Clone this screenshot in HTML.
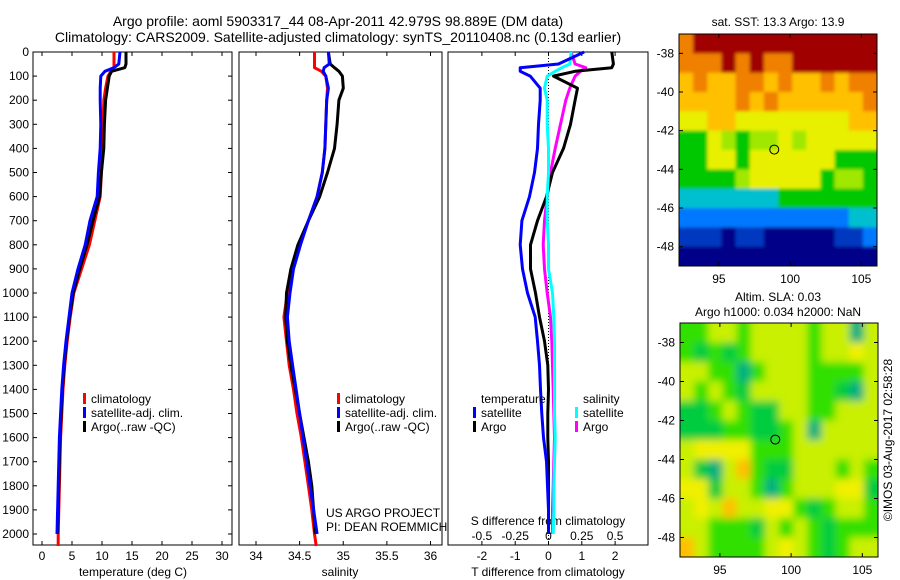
<!DOCTYPE html>
<html><head><meta charset="utf-8">
<style>
html,body{margin:0;padding:0;background:#fff;}
svg{display:block;font-family:"Liberation Sans",sans-serif;}
</style></head>
<body>
<svg id="fig" width="900" height="580" viewBox="0 0 900 580">
<defs>
<filter id="blurS" x="-5%" y="-5%" width="110%" height="110%"><feGaussianBlur stdDeviation="1.5"/></filter>
<filter id="blurL" x="-5%" y="-5%" width="110%" height="110%"><feGaussianBlur stdDeviation="4"/></filter>
<clipPath id="clipS"><rect x="679" y="34" width="198" height="232"/></clipPath>
<clipPath id="clipL"><rect x="680" y="323" width="198" height="234"/></clipPath>
</defs>
<rect width="900" height="580" fill="#fff"/>
<text x="338" y="26" font-size="14" text-anchor="middle">Argo profile: aoml 5903317_44 08-Apr-2011 42.979S 98.889E (DM data)</text>
<text x="338" y="42" font-size="14" text-anchor="middle">Climatology: CARS2009. Satellite-adjusted climatology: synTS_20110408.nc (0.13d earlier)</text>
<text x="778" y="26" font-size="12" text-anchor="middle">sat. SST: 13.3 Argo: 13.9</text>
<text x="778" y="301" font-size="12" text-anchor="middle">Altim. SLA: 0.03</text>
<text x="778" y="316" font-size="12" text-anchor="middle">Argo h1000: 0.034 h2000: NaN</text>
<text x="0" y="0" font-size="12" text-anchor="middle" transform="translate(892,440) rotate(-90)">©IMOS 03-Aug-2017 02:58:28</text>
<g id="layer"></g>
</svg>
<script>
// ---- data ----
const depths = [0,50,65,80,100,150,200,300,400,500,600,700,800,900,1000,1100,1200,1300,1400,1500,1600,1700,1800,1900,2000,2050];
const tempClim = [12,12,12,11.5,11,10.6,10.3,10.2,10.1,9.9,9.7,8.8,7.9,6.6,5.3,4.7,4.2,3.8,3.5,3.3,3.1,3.0,2.9,2.8,2.7,2.7];
const tempSat  = [13,12.8,12,10.5,9.8,9.7,9.7,9.8,9.7,9.4,9.2,8.0,7.2,6.0,5.0,4.5,4.0,3.6,3.3,3.1,2.9,2.8,2.7,2.6,2.5,null];
const tempArgo = [14,14,13.8,11.6,11.2,10.9,10.6,10.4,10.3,9.9,9.6,8.5,7.5,6.3,5.2,4.6,4.1,3.7,3.4,3.2,3.0,2.9,2.8,2.7,2.6,null];
const salClim = [34.67,34.67,34.67,34.75,34.8,34.82,34.81,34.8,34.79,34.76,34.7,34.6,34.5,34.41,34.36,34.32,34.35,34.38,34.43,34.47,34.52,34.56,34.6,34.64,34.67,34.69];
const salSat  = [34.83,34.84,34.78,34.77,34.8,34.83,34.81,34.8,34.79,34.76,34.7,34.6,34.51,34.43,34.39,34.36,34.38,34.42,34.46,34.5,34.54,34.58,34.62,34.66,34.7,null];
const salArgo = [34.83,34.85,34.9,34.95,34.99,35.0,34.95,34.93,34.9,34.82,34.73,34.6,34.48,34.4,34.35,34.34,34.36,34.4,34.45,34.5,34.55,34.6,34.64,34.66,34.68,null];
const dTSat  = [1.07,0.3,-0.85,-0.85,-0.55,-0.25,-0.25,-0.3,-0.33,-0.42,-0.57,-0.8,-0.85,-0.78,-0.63,-0.4,-0.33,-0.27,-0.24,-0.2,-0.15,-0.06,-0.03,0,0,null];
const dTArgo = [1.9,1.95,1.9,0.8,0.15,0.87,0.8,0.66,0.45,0.12,-0.06,-0.33,-0.54,-0.54,-0.39,-0.27,-0.12,-0.02,0,-0.02,-0.02,0,0,0,0,null];
const dSSat  = [0.17,0.16,0.1,0.05,-0.01,-0.03,-0.01,-0.01,0,0,-0.01,-0.01,0,0,0.03,0.04,0.045,0.045,0.045,0.045,0.05,0.045,0.04,0.04,0.035,null];
const dSArgo = [0.17,0.2,0.28,0.24,0.2,0.16,0.13,0.09,0.05,0.015,-0.01,-0.03,-0.04,-0.03,-0.01,0.015,0.025,0.03,0.035,0.04,0.045,0.04,0.035,0.03,0.03,null];
const depthTicks = [0,100,200,300,400,500,600,700,800,900,1000,1100,1200,1300,1400,1500,1600,1700,1800,1900,2000];
const tempTicks = [0,5,10,15,20,25,30];
const salTicks = [34,34.5,35,35.5,36];
const dTTicks = [-2,-1,0,1,2];
const dSTicks = [-0.5,-0.25,0,0.25,0.5];
const dSTickLabels = ["-0.5","-0.25","0","0.25","0.5"];
const sstRows = ["89999999999999","88898988999999","78778878778788","77778787777778","66776666666677","44654556566666","44664666666444","44445666664554","33333334444444","22222222222233","11101100000112","00000000000000"];
const slaRows = ["22332333323303","21212333323343","33220233322223","32321333322103","11232113322333","11122112303333","34444222333333","31035211333232","44133202333441","34353344212332","33222132321222","53222234321233"];
// ---- helpers ----
const NS="http://www.w3.org/2000/svg";
const layer=document.getElementById('layer');
function mk(tag,attrs,parent){const e=document.createElementNS(NS,tag);for(const k in attrs)e.setAttribute(k,attrs[k]);(parent||layer).appendChild(e);return e;}
const Y0=52,Y1=545;
const yD=d=>52+d*0.241;
const xT=v=>42+6*v;
const xS=v=>256+87.25*(v-34);
const xdT=v=>548.5+33.3*v;
const xdS=v=>548.5+133.2*v;
const panels=[[33,232],[239,442],[448,648]];
panels.forEach((p,i)=>{
  const r=mk('rect',{x:p[0],y:Y0,width:p[1]-p[0],height:Y1-Y0,fill:'none',stroke:'#000','stroke-width':1});
  
  
});
depthTicks.forEach(d=>{
  const y=yD(d);
  const t=mk('text',{x:29,y:y+4,'font-size':12,'text-anchor':'end'});t.textContent=d;
  
  
  mk('line',{x1:33,x2:37,y1:y,y2:y,stroke:'#000'});
  mk('line',{x1:228,x2:232,y1:y,y2:y,stroke:'#000'});
});
function xticks(ticks,fx,labels,yl){
  ticks.forEach((v,i)=>{
    const x=fx(v);
    mk('line',{x1:x,x2:x,y1:Y0,y2:Y0+4,stroke:'#000'});
    mk('line',{x1:x,x2:x,y1:Y1-4,y2:Y1,stroke:'#000'});
    const t=mk('text',{x:x,y:yl,'font-size':12,'text-anchor':'middle'});t.textContent=labels?labels[i]:v;
    
    
  });
}
xticks(tempTicks,xT,null,560);
xticks(salTicks,xS,null,560);
xticks(dTTicks,xdT,null,560);
dSTicks.forEach((v,i)=>{
  const t=mk('text',{x:xdS(v),y:540,'font-size':12,'text-anchor':'middle'});t.textContent=dSTickLabels[i];
  
  
});
function label(x,y,s,name,anchor){const t=mk('text',{x:x,y:y,'font-size':12,'text-anchor':anchor||'middle'});t.textContent=s;
  
  return t;}
label(133,576,'temperature (deg C)','x-axis-title-temperature');
label(340,576,'salinity','x-axis-title-salinity');
label(548,576,'T difference from climatology','x-axis-title-t-diff');
label(548,525,'S difference from climatology','s-diff-axis-title');
label(326,517,'US ARGO PROJECT','credit-project','start');
label(326,531,'PI: DEAN ROEMMICH','credit-pi','start');
const zl=mk('line',{x1:xdT(0),x2:xdT(0),y1:Y0,y2:Y1,stroke:'#000','stroke-dasharray':'1,2'});


function series(vals,fx,color,name){
  const pts=[];vals.forEach((v,i)=>{if(v!==null)pts.push(fx(v).toFixed(1)+','+yD(depths[i]).toFixed(1));});
  const p=mk('polyline',{points:pts.join(' '),fill:'none',stroke:color,'stroke-width':3,'stroke-linejoin':'round'});
  
  
}
series(tempClim,xT,'#f00','temp-climatology-line');
series(tempArgo,xT,'#000','temp-argo-line');
series(tempSat,xT,'#00f','temp-satellite-line');
series(salClim,xS,'#f00','sal-climatology-line');
series(salArgo,xS,'#000','sal-argo-line');
series(salSat,xS,'#00f','sal-satellite-line');
series(dSArgo,xdS,'#f0f','s-diff-argo-line');
series(dTArgo,xdT,'#000','t-diff-argo-line');
series(dSSat,xdS,'#0ff','s-diff-satellite-line');
series(dTSat,xdT,'#00f','t-diff-satellite-line');
function legend(x,y,color,text,name){
  const g=mk('g',{});
  
  
  mk('rect',{x:x,y:y-10,width:3,height:11,fill:color},g);
  const t=mk('text',{x:x+8,y:y,'font-size':12},g);t.textContent=text;
}
[[83,'climatology','#f00'],[83,'satellite-adj. clim.','#00f'],[83,'Argo(..raw -QC)','#000']].forEach((l,i)=>legend(l[0],403+i*14,l[2],l[1],'legend-temp-'+i));
[[337,'climatology','#f00'],[337,'satellite-adj. clim.','#00f'],[337,'Argo(..raw -QC)','#000']].forEach((l,i)=>legend(l[0],403+i*14,l[2],l[1],'legend-sal-'+i));
label(481,403,'temperature','legend-temperature-heading','start');
label(583,403,'salinity','legend-salinity-heading','start');
legend(473,417,'#00f','satellite','legend-t-satellite');
legend(473,431,'#000','Argo','legend-t-argo');
legend(575,417,'#0ff','satellite','legend-s-satellite');
legend(575,431,'#f0f','Argo','legend-s-argo');
const sstColors=['#000088','#0038c0','#0078ff','#00c0d0','#00c800','#a0e800','#e8f000','#ffc000','#f08000','#a00000'];
const slaColors=['#00b080','#00cc40','#30e000','#c8f000','#f0f000','#ffc000'];
function map(x0,y0,x1,y1,rows,colors,name,latTop,latBot,latTicks,filt,clip){
  const g=mk('g',{});
  
  
  const cg=mk('g',{'clip-path':'url(#'+clip+')'},g);
  const bg=mk('g',{filter:'url(#'+filt+')'},cg);
  const nr=rows.length,nc=rows[0].length,cw=(x1-x0)/nc,ch=(y1-y0)/nr;
  rows.forEach((r,i)=>{for(let j=0;j<nc;j++){
    // extend edge cells outward so blur does not fade at borders
    const ex=j==0?-8:0, ew=(j==0||j==nc-1)?8:0, ey=i==0?-8:0, eh=(i==0||i==nr-1)?8:0;
    mk('rect',{x:x0+j*cw+ex,y:y0+i*ch+ey,width:cw+0.5+ew,height:ch+0.5+eh,fill:colors[+r[j]]},bg);}});
  mk('rect',{x:x0,y:y0,width:x1-x0,height:y1-y0,fill:'none',stroke:'#000'},g);
  const xl=lon=>x0+(lon-92.2)*(x1-x0)/13.9;
  const yl=lat=>y0+(latTop-lat)*(y1-y0)/(latTop-latBot);
  [95,100,105].forEach(l=>{mk('line',{x1:xl(l),x2:xl(l),y1:y1,y2:y1-4,stroke:'#000'},g);mk('line',{x1:xl(l),x2:xl(l),y1:y0,y2:y0+4,stroke:'#000'},g);
    const t=mk('text',{x:xl(l),y:y1+17,'font-size':12,'text-anchor':'middle'},g);t.textContent=l;});
  latTicks.forEach(l=>{mk('line',{x1:x0,x2:x0+4,y1:yl(l),y2:yl(l),stroke:'#000'},g);mk('line',{x1:x1-4,x2:x1,y1:yl(l),y2:yl(l),stroke:'#000'},g);
    const t=mk('text',{x:x0-5,y:yl(l)+4,'font-size':12,'text-anchor':'end'},g);t.textContent=l;});
  const c=mk('circle',{cx:xl(98.889),cy:yl(-42.979),r:4.5,fill:'none',stroke:'#000'},g);
  
  
}
map(679,34,877,266,sstRows,sstColors,'sst-map',-37,-49,[-38,-40,-42,-44,-46,-48],'blurS','clipS');
map(680,323,878,557,slaRows,slaColors,'sla-map',-37,-49,[-38,-40,-42,-44,-46,-48],'blurL','clipL');
</script>
</body></html>
